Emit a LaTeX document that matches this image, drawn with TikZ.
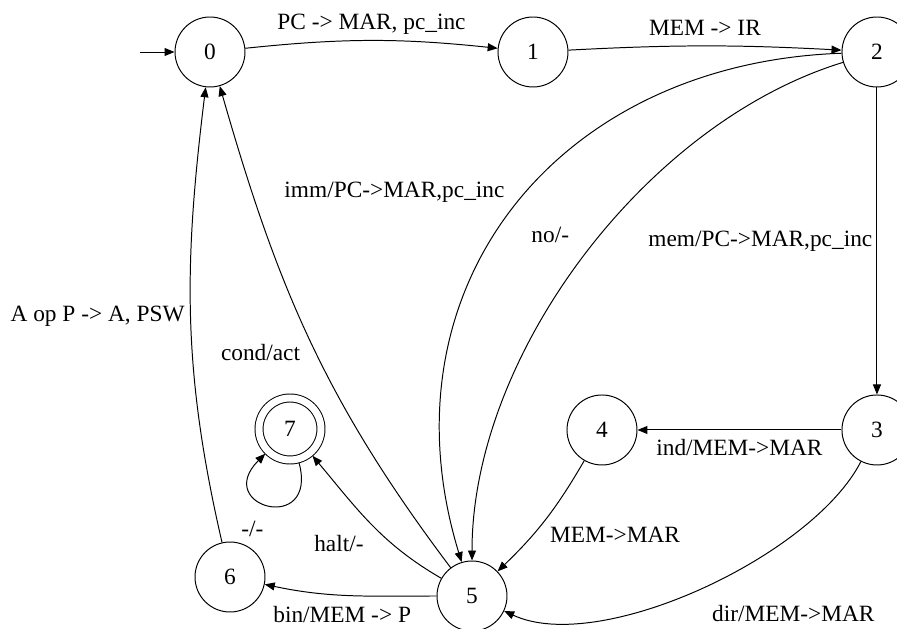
\documentclass[tikz,border=0pt]{standalone}
\usepackage{fontspec}
\setmainfont{Liberation Serif}
\usetikzlibrary{arrows.meta,positioning}

\begin{document}
\begin{tikzpicture}[
  node distance=6.3cm,
  state/.style={circle, draw=black, line width=0.7pt, minimum size=1.75cm, inner sep=0pt, font=\fontsize{16.6}{19}\selectfont},
  accept/.style={state, minimum size=1.55cm, double, double distance=1.75mm, outer sep=1mm},
  lab/.style={font=\fontsize{16.6}{19}\selectfont, inner sep=2pt},
  edge/.style={line width=0.7pt, -{Triangle[length=2.5mm, width=2mm]}}
]
\useasboundingbox (0,0) rectangle (22.425,15.7);

\node[state] (s0) at (5.25,14.4) {0};
\node[state, right=6.3cm of s0] (s1) {1};
\node[state, right=6.825cm of s1] (s2) {2};
\node[state, below=7.675cm of s2] (s3) {3};
\node[state, left=5.1cm of s3] (s4) {4};
\node[state] (s5) at (11.8,0.8) {5};
\node[state] (s6) at (5.75,1.275) {6};
\node[accept] (s7) at (7.25,4.975) {7};
\coordinate[left=0.875cm of s0] (start);

\draw[edge] (start) -- (s0);
\draw[edge] (s0) to[bend left=6] node[lab, above=2pt] {PC -> MAR, pc\_inc} (s1);
\draw[edge] (s1) to[bend left=3] node[lab, above=5pt] {MEM -> IR} (s2);
\draw[edge] (s2) -- node[lab, left=1pt] {mem/PC->MAR,pc\_inc} (s3);
\draw[edge] (s3) -- node[lab, below=4pt] {ind/MEM->MAR} (s4);
\draw[edge] (s4) to[bend left=8] node[lab, below right=3pt and 1pt] {MEM->MAR} (s5);
\draw[edge] (s3) to[out=-117, in=-25, looseness=0.7] node[lab, pos=0.5, below right=10pt and 6pt] {dir/MEM->MAR} (s5);
\draw[edge] (s2) to[out=182, in=107, looseness=1.15] node[lab, pos=0.47, left=13pt] {imm/PC->MAR,pc\_inc} (s5);
\draw[edge] (s2) to[out=197, in=90, looseness=0.85] node[lab, pos=0.46, left=20pt] {no/-} (s5);
\draw[edge] (s5) to[out=127, in=-74] node[lab, pos=0.47, left=9pt] {cond/act} (s0);
\draw[edge] (s6) to[out=103, in=-97] node[lab, left=2pt] {A op P -> A, PSW} (s0);
\draw[edge] (s5) to[out=180, in=-12] node[lab, pos=0.55, below=6pt] {bin/MEM -> P} (s6);
\draw[edge] (s5) to[out=150, in=-50] node[lab, below left=6pt and 3pt] {halt/-} (s7);
\draw[edge] (s7) to[out=-75, in=-135, looseness=5.5] node[lab, below left=9pt and 2pt] {-/-} (s7);
\end{tikzpicture}
\end{document}
